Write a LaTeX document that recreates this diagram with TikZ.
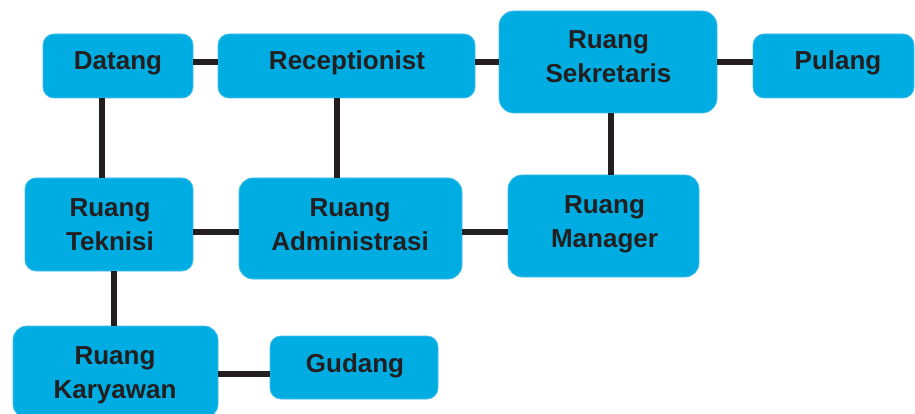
\documentclass[tikz,border=0pt]{standalone}
\usepackage{fontspec}
\setmainfont{Liberation Sans}
\definecolor{roomfill}{RGB}{0,173,226}
\definecolor{roomedge}{RGB}{70,190,234}
\definecolor{ink}{RGB}{35,31,32}
\begin{document}
\begin{tikzpicture}[x=1pt,y=-1pt,
  room/.style={fill=roomfill, draw=roomedge, line width=0.8pt,
    rounded corners=11pt, inner sep=0pt},
  caption/.style={anchor=base, align=center, text=ink,
    font=\fontsize{26}{34}\selectfont\bfseries},
  link/.style={draw=ink, line width=5.5pt}]
\useasboundingbox (0,0) rectangle (915,414);
\clip (0,0) rectangle (915,414);

% rooms
\node[room, minimum width=150pt, minimum height=64pt]  (datang)   at (118,66)    {};
\node[room, minimum width=257pt, minimum height=64pt]  (recep)    at (346.5,66)  {};
\node[room, minimum width=218pt, minimum height=102pt, rounded corners=15pt] (sek) at (608,62) {};
\node[room, minimum width=161pt, minimum height=64pt]  (pulang)   at (833.5,66)  {};
\node[room, minimum width=168pt, minimum height=93pt]  (teknisi)  at (109,224.5) {};
\node[room, minimum width=223pt, minimum height=101pt, rounded corners=14pt] (admin) at (350.5,228.5) {};
\node[room, minimum width=191pt, minimum height=102pt, rounded corners=14pt] (manager) at (603.5,226) {};
\node[room, minimum width=205pt, minimum height=92pt, rounded corners=14pt] (karyawan) at (115.5,372) {};
\node[room, minimum width=168pt, minimum height=63pt]  (gudang)   at (354,367.5) {};

% captions (two-line captions sit on the baseline of their last line)
\node[caption] (datang-t)   at (118,70)   {Datang};
\node[caption] (recep-t)    at (347,70)   {Receptionist};
\node[caption] (sek-t)      at (608.5,83) {Ruang\\Sekretaris};
\node[caption] (pulang-t)   at (838,70)   {Pulang};
\node[caption] (teknisi-t)  at (110,250)  {Ruang\\Teknisi};
\node[caption] (admin-t)    at (350,250)  {Ruang\\Administrasi};
\node[caption] (manager-t)  at (604.5,247){Ruang\\Manager};
\node[caption] (karyawan-t) at (115,398)  {Ruang\\Karyawan};
\node[caption] (gudang-t)   at (355,372)  {Gudang};

% connectors
\draw[link] ([yshift=4pt]datang.east) -- ([yshift=4pt]datang.east -| recep.west);
\draw[link] ([yshift=4pt]recep.east) -- ([yshift=4pt]recep.east -| sek.west);
\draw[link] (sek.east) -- (sek.east -| pulang.west);
\draw[link] ([xshift=-16pt]datang.south) -- ([xshift=-16pt]datang.south |- teknisi.north);
\draw[link] ([xshift=-9.5pt]recep.south) -- ([xshift=-9.5pt]recep.south |- admin.north);
\draw[link] ([xshift=3pt]sek.south) -- ([xshift=3pt]sek.south |- manager.north);
\draw[link] ([yshift=-7.5pt]teknisi.east) -- ([yshift=-7.5pt]teknisi.east -| admin.west);
\draw[link] ([yshift=-3.5pt]admin.east) -- ([yshift=-3.5pt]admin.east -| manager.west);
\draw[link] ([xshift=5pt]teknisi.south) -- ([xshift=5pt]teknisi.south |- karyawan.north);
\draw[link] ([yshift=-6.5pt]gudang.west) -- ([yshift=-6.5pt]gudang.west -| karyawan.east);
\end{tikzpicture}
\end{document}
